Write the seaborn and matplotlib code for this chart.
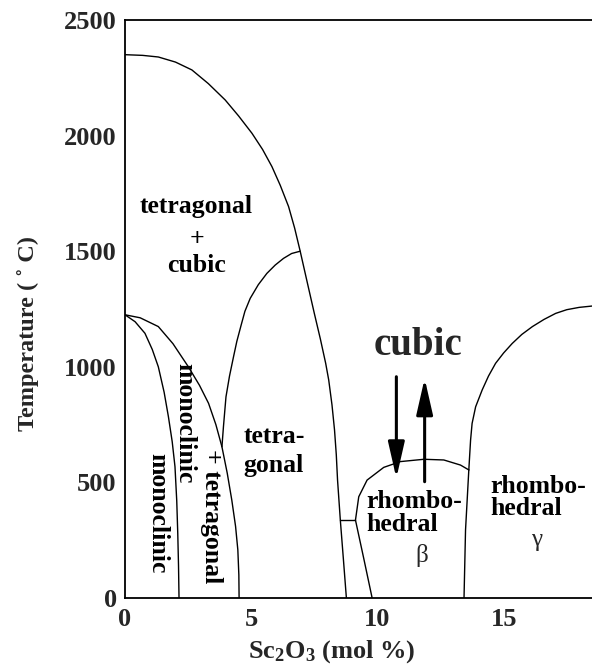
import matplotlib
matplotlib.use("Agg")
import matplotlib.pyplot as plt
import seaborn as sns

# ZrO2-Sc2O3 phase boundaries: composition (mol % Sc2O3) and temperature (deg C)
cubic_x = [0, 0.7, 1.32, 2.0, 2.65, 3.3, 3.97, 4.5, 5.03, 5.45, 5.82, 6.15, 6.48, 6.72, 6.94,
           7.22, 7.5, 7.74, 7.95, 8.07, 8.2, 8.3, 8.37, 8.42, 8.53, 8.65, 8.77]
cubic_t = [2350, 2347, 2340, 2318, 2284, 2225, 2154, 2085, 2010, 1940, 1866, 1785, 1693, 1600, 1500,
           1365, 1231, 1120, 1015, 943, 835, 727, 620, 510, 337, 170, 0]

tet_x = [6.94, 6.6, 6.28, 5.95, 5.62, 5.28, 4.96, 4.75, 4.6, 4.43, 4.3, 4.14, 4.0, 3.9, 3.84]
tet_t = [1500, 1490, 1469, 1440, 1404, 1355, 1296, 1240, 1180, 1110, 1044, 960, 870, 741, 654]

mt_x = [0, 0.6, 1.32, 1.9, 2.51, 2.95, 3.31, 3.6, 3.84, 4.05, 4.23, 4.38, 4.47, 4.51, 4.52]
mt_t = [1225, 1212, 1174, 1100, 1000, 920, 842, 750, 654, 540, 424, 310, 208, 100, 0]

mono_x = [0, 0.4, 0.79, 1.08, 1.32, 1.55, 1.72, 1.87, 1.98, 2.05, 2.09, 2.12, 2.14]
mono_t = [1225, 1195, 1145, 1075, 1000, 890, 784, 676, 568, 420, 280, 140, 0]

tie_x = [8.53, 9.13]
tie_t = [337, 337]

beta_left_x = [9.13, 9.46, 9.79]
beta_left_t = [337, 170, 0]

beta_dome_x = [9.13, 9.26, 9.59, 10.25, 10.91, 11.84, 12.63, 13.29, 13.62]
beta_dome_t = [337, 438, 510, 565, 590, 600, 597, 575, 554]

beta_right_x = [13.62, 13.49, 13.43]
beta_right_t = [554, 294, 0]

gamma_x = [13.62, 13.69, 13.75, 13.89, 14.15, 14.4, 14.68, 15.0, 15.34, 15.72, 16.14, 16.6,
           17.06, 17.5, 17.99, 18.52]
gamma_t = [554, 683, 755, 827, 900, 960, 1015, 1060, 1101, 1140, 1174, 1205,
           1231, 1247, 1257, 1263]

# cooling / heating arrows (x, T_start, T_end)
arrow_down = (10.75, 957, 518)
arrow_up = (11.87, 503, 950)

x_ticks = [0, 5, 10, 15]
y_ticks = [0, 500, 1000, 1500, 2000, 2500]

sns.set_style("white")
plt.rcParams["font.family"] = ["Liberation Serif", "DejaVu Serif"]
plt.rcParams["font.weight"] = "bold"
plt.rcParams["mathtext.fontset"] = "custom"
plt.rcParams["mathtext.rm"] = "Liberation Serif:bold"
plt.rcParams["mathtext.bf"] = "Liberation Serif:bold"
plt.rcParams["mathtext.it"] = "Liberation Serif:bold:italic"

fig = plt.figure(figsize=(5.92, 6.65), dpi=100)
ax = fig.add_axes([125 / 592, 67 / 665, 467 / 592, 578 / 665])

boundaries = [
    (cubic_x, cubic_t), (tet_x, tet_t), (mt_x, mt_t), (mono_x, mono_t),
    (tie_x, tie_t), (beta_left_x, beta_left_t), (beta_dome_x, beta_dome_t),
    (beta_right_x, beta_right_t), (gamma_x, gamma_t),
]
for bx, bt in boundaries:
    sns.lineplot(x=bx, y=bt, sort=False, estimator=None, color="black",
                 linewidth=1.0, ax=ax)

for xa, t0, t1 in (arrow_down, arrow_up):
    ax.annotate("", xy=(xa, t1), xytext=(xa, t0),
                arrowprops=dict(arrowstyle="-|>,head_length=2.2,head_width=0.5",
                                mutation_scale=10, lw=2.2, color="black",
                                shrinkA=0, shrinkB=0))

ax.set_xlim(0, 18.5)
ax.set_ylim(0, 2500)
ax.set_xticks(x_ticks)
ax.set_yticks(y_ticks)
ax.tick_params(axis="y", direction="in", length=12, width=1.0, pad=6,
               labelsize=19)
ax.tick_params(axis="x", direction="in", length=11, width=1.0, pad=7,
               labelsize=19)
for lab in ax.get_xticklabels() + ax.get_yticklabels():
    lab.set_fontweight("bold")

for side in ("left", "bottom", "top"):
    ax.spines[side].set_visible(True)
    ax.spines[side].set_color("black")
    ax.spines[side].set_linewidth(1.3)
ax.spines["right"].set_visible(False)

ax.set_xlabel(r"Sc$_2$O$_3$ (mol %)", fontsize=19, fontweight="bold")
ax.xaxis.set_label_coords(0.443, -0.07)
ax.set_ylabel("Temperature ( \u02da C)", fontsize=17.5, fontweight="bold")
ax.yaxis.set_label_coords(-0.185, 0.458)

bold = dict(fontweight="bold", fontsize=18.5, color="black")
ax.text(2.82, 1693, "tetragonal", ha="center", va="center", **bold)
ax.text(2.84, 1549, "+", ha="center", va="center", **bold)
ax.text(2.84, 1440, "cubic", ha="center", va="center", **bold)

ax.text(11.6, 1094, "cubic", ha="center", va="center", fontsize=28,
        fontweight="bold")

ax.text(1.31, 365, "monoclinic", rotation=-90, ha="center", va="center", **bold)
ax.text(2.35, 757, "monoclinic", rotation=-90, ha="center", va="center", **bold)
ax.text(3.41, 355, "+ tetragonal", rotation=-90, ha="center", va="center", **bold)

ax.text(4.69, 697, "tetra-", ha="left", va="center", **bold)
ax.text(4.69, 575, "gonal", ha="left", va="center", **bold)

ax.text(9.55, 417, "rhombo-", ha="left", va="center", **bold)
ax.text(9.55, 316, "hedral", ha="left", va="center", **bold)
ax.text(11.77, 182, "\u03b2", ha="center", va="center", fontsize=18,
        fontweight="normal")

ax.text(14.46, 482, "rhombo-", ha="left", va="center", **bold)
ax.text(14.46, 385, "hedral", ha="left", va="center", **bold)
ax.text(16.31, 251, "\u03b3", ha="center", va="center", fontsize=18,
        fontweight="normal")

fig.savefig("out.png", dpi=100)
